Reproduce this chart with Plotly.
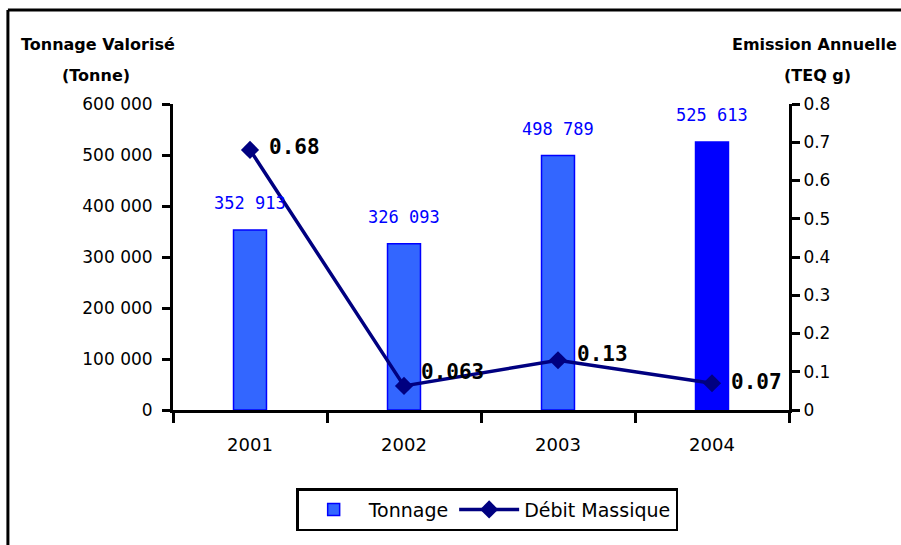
import plotly.graph_objects as go

years = ["2001", "2002", "2003", "2004"]
tonnage = [352913, 326093, 498789, 525613]
debit = [0.68, 0.063, 0.13, 0.07]
bar_colors = ["#3366FF", "#3366FF", "#3366FF", "#0000FF"]
left_tickvals = [0, 100000, 200000, 300000, 400000, 500000, 600000]
left_ticktext = ["0", "100 000", "200 000", "300 000", "400 000", "500 000", "600 000"]
right_tickvals = [0, 0.1, 0.2, 0.3, 0.4, 0.5, 0.6, 0.7, 0.8]
right_ticktext = ["0", "0.1", "0.2", "0.3", "0.4", "0.5", "0.6", "0.7", "0.8"]
debit_labels = ["0.68", "0.063", "0.13", "0.07"]

# label offsets (pixels) for the line labels
lbl_xshift = [17, 15, 17, 17]
lbl_yshift = [3, 14, 6, 1]

fig = go.Figure()
fig.add_trace(go.Bar(
    x=years, y=tonnage, name="Tonnage",
    marker=dict(color=bar_colors, line=dict(color="#0000FF", width=1.5)),
    yaxis="y",
))
fig.add_trace(go.Scatter(
    x=years, y=debit, name="Débit Massique", mode="lines+markers",
    line=dict(color="#000080", width=3.5),
    marker=dict(symbol="diamond", size=14, color="#000080"),
    yaxis="y2",
))

ann = []
for i, v in enumerate(tonnage):
    ann.append(dict(x=i, y=v, xref="x", yref="y", text=f"{v:,}".replace(",", " "),
                    showarrow=False, yshift=27,
                    font=dict(family="DejaVu Sans Mono", size=17, color="#0000FF")))
for i, (v, t, dx, dy) in enumerate(zip(debit, debit_labels, lbl_xshift, lbl_yshift)):
    ann.append(dict(x=i, y=v, xref="x", yref="y2", text=f"<b>{t}</b>",
                    showarrow=False, xanchor="left", xshift=dx, yshift=dy,
                    font=dict(family="DejaVu Sans Mono", size=21, color="black")))

title_font = dict(family="DejaVu Sans", size=16, color="black")
ann += [
    dict(x=-0.122, y=1.196, xref="paper", yref="paper", text="<b>Tonnage Valorisé</b>",
         showarrow=False, xanchor="center", yanchor="middle", font=title_font),
    dict(x=-0.125, y=1.092, xref="paper", yref="paper", text="<b>(Tonne)</b>",
         showarrow=False, xanchor="center", yanchor="middle", font=title_font),
    dict(x=1.041, y=1.196, xref="paper", yref="paper", text="<b>Emission Annuelle</b>",
         showarrow=False, xanchor="center", yanchor="middle", font=title_font),
    dict(x=1.047, y=1.092, xref="paper", yref="paper", text="<b>(TEQ g)</b>",
         showarrow=False, xanchor="center", yanchor="middle", font=title_font),
]

fig.update_layout(
    width=901, height=545,
    margin=dict(l=173, r=112, t=104, b=135),
    paper_bgcolor="white", plot_bgcolor="white",
    bargap=0.786,
    showlegend=True,
    legend=dict(orientation="h", x=0.51, y=-0.255, xanchor="center", yanchor="top",
                bordercolor="black", borderwidth=2.5, itemwidth=60,
                font=dict(family="DejaVu Sans", size=19, color="black")),
    xaxis=dict(type="category", range=[-0.5, 3.5], showgrid=False,
               showline=True, linecolor="black", linewidth=3,
               ticks="outside", tickson="boundaries", ticklen=10, tickwidth=2.5,
               tickcolor="black", ticklabelstandoff=16,
               tickfont=dict(family="DejaVu Sans", size=18, color="black")),
    yaxis=dict(range=[0, 600000], tickvals=left_tickvals, ticktext=left_ticktext,
               showgrid=False, zeroline=False, showline=True, linecolor="black", linewidth=3,
               ticks="outside", ticklen=8, tickwidth=2.5, tickcolor="black",
               ticklabelstandoff=6,
               tickfont=dict(family="DejaVu Sans", size=17, color="black")),
    yaxis2=dict(range=[0, 0.8], tickvals=right_tickvals, ticktext=right_ticktext,
                overlaying="y", side="right",
                showgrid=False, zeroline=False, showline=True, linecolor="black", linewidth=3,
                ticks="outside", ticklen=8, tickwidth=2.5, tickcolor="black",
                tickfont=dict(family="DejaVu Sans", size=17, color="black")),
    annotations=ann,
    shapes=[
        dict(type="line", xref="paper", yref="paper", x0=-0.268, x1=1.3, y0=1.307, y1=1.307,
             line=dict(color="black", width=3)),
        dict(type="line", xref="paper", yref="paper", x0=-0.268, x1=-0.268, y0=1.307, y1=-0.5,
             line=dict(color="black", width=3)),
    ],
)

fig.write_html("out.html", config={"displayModeBar": False},
               post_script="document.body.style.margin='0';")
